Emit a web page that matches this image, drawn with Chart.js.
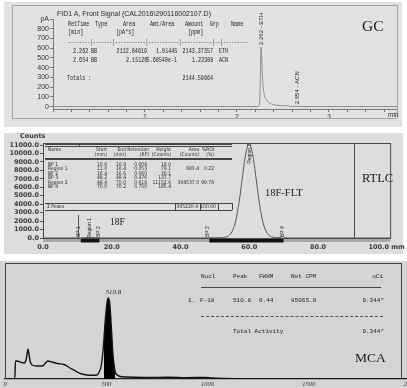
<!DOCTYPE html>
<html>
<head>
<meta charset="utf-8">
<title>GC / RTLC / MCA</title>
<script src="https://cdn.jsdelivr.net/npm/chart.js@4.4.1/dist/chart.umd.min.js"></script>
<style>
  html, body { margin: 0; overflow: hidden; }
  body { position: relative; width: 407px; height: 388px; background: #fff; }
  .panel, canvas, .t, .ln { position: absolute; }
  canvas { left: 0; }
  .t { white-space: pre; line-height: 1; color: #2b2b2b; }
  .sans { font-family: "Liberation Sans", Arial, sans-serif; }
  .mono { font-family: "Liberation Mono", "DejaVu Sans Mono", monospace; color: #222; }
  .narrow { font-family: "Liberation Sans Narrow", "DejaVu Sans Condensed", "Liberation Sans", sans-serif; }
  .serif { font-family: "Liberation Serif", "DejaVu Serif", serif; color: #1a1a1a; }
  .dv { font-family: "DejaVu Sans", sans-serif; font-weight: bold; color: #3a3a3a; }
</style>
</head>
<body>
<div class="panel" style="left:4px;top:2px;width:398px;height:125px;background:#e2e2e0"></div>
<div class="panel" style="left:4px;top:133px;width:399px;height:121px;background:#dddddb"></div>
<div class="panel" style="left:0;top:261px;width:407px;height:127px;background:#d4d4d2"></div>
<canvas id="gcChart" width="407" height="127" style="top:0"></canvas>
<canvas id="rtlcChart" width="407" height="122" style="top:133px"></canvas>
<canvas id="mcaChart" width="420" height="126" style="top:262px"></canvas>
<script>
// ---------- GC: FID1 A front signal ----------
const gcTime   = [0, 2.22, 2.24, 2.25, 2.256, 2.262, 2.268, 2.275, 2.285, 2.30, 2.32, 2.35, 2.38, 2.42, 2.47, 2.55, 2.58, 2.62, 2.654, 2.68, 2.75, 3.74];
const gcSignal = [0, 0, 5, 120, 400, 612, 520, 350, 200, 110, 70, 40, 25, 15, 10, 8, 3, 1, 3, 1, 0, 0];
const gcYTicks = [0, 100, 200, 300, 400, 500, 600, 700, 800, 900];
const gcXTicks = [0, 0.2, 0.4, 0.6, 0.8, 1, 1.2, 1.4, 1.6, 1.8, 2, 2.2, 2.4, 2.6, 2.8, 3, 3.2, 3.4, 3.6];

// GC peak report
const gcRetTime = [2.262, 2.654];
const gcType    = ['BB', 'BB'];
const gcArea    = ['2112.84619', '2.15126'];
const gcAmtArea = ['1.01445', '5.68540e-1'];
const gcAmount  = ['2143.37357', '1.22308'];
const gcName    = ['ETH', 'ACN'];
const gcTotal   = '2144.59664';

// ---------- RTLC: radio-TLC scan ----------
const rtlcMm     = [0, 10.4, 10.6, 10.8, 11.0, 12.5, 13.7, 15.0, 16.4, 16.6, 17.0, 30.0, 47.8, 48.2, 48.6, 50.0, 52.0, 53.0, 54.0, 55.0, 56.0, 57.0, 58.0, 59.0, 60.0, 61.0, 62.0, 63.0, 64.0, 65.0, 66.0, 67.0, 68.0, 69.0, 70.0, 70.4, 72.0, 101];
const rtlcCounts = [0, 0, 18, 0, 10, 40, 79, 40, 30, 20, 0, 0, 0, 138, 30, 20, 40, 90, 260, 760, 1900, 4100, 7150, 9980, 11152.6, 9900, 7050, 4000, 1850, 720, 240, 90, 40, 60, 185, 40, 0, 0];
const rtlcYTicks = [0, 1000, 2000, 3000, 4000, 5000, 6000, 7000, 8000, 9000, 10000, 11000];
const rtlcXTicks = [0, 20, 40, 60, 80, 100];

// RTLC region / peak report
const rtlcRowName   = ['BP 1', 'Region 1', 'BP 2', 'BP 3', 'Region 2', 'BP 4'];
const rtlcRowStart  = [10.6, 11.0, 16.4, 48.2, 48.4, 70.0];
const rtlcRowEnd    = [10.8, 16.4, 16.6, 48.4, 70.0, 70.2];
const rtlcRowRf     = [0.008, 0.053, 0.060, 0.476, 0.618, 0.750];
const rtlcRowHeight = [18.0, 79.1, 30.1, 137.7, 11152.6, 185.4];
const rtlcRowArea   = [null, 683.4, null, null, 304537.0, null];
const rtlcRowRoi    = [null, 0.22, null, null, 99.78, null];
const rtlcTotalArea = 305220.4;
const rtlcTotalRoi  = 100.00;
const rtlcScanEnd   = 90.5; // end of scanned strip, mm

// ---------- MCA: gamma spectrum ----------
const mcaEnergy = [0, 48, 52, 60, 75, 95, 105, 110, 114, 118, 124, 133, 160, 185, 200, 212, 230, 260, 290, 306, 321, 340, 356, 380, 405, 430, 454, 465, 475, 485, 489, 495, 505, 511, 518, 525, 533, 543, 555, 568, 600, 700, 800, 900, 990, 1020, 1100, 1200, 2000];
const mcaCounts = [0, 0, 1800, 1800, 1700, 1600, 2000, 2600, 3000, 2500, 1800, 1400, 1300, 1300, 1600, 1800, 1700, 1550, 1450, 1300, 1100, 900, 700, 500, 400, 380, 400, 700, 1300, 3000, 4100, 5800, 7800, 8100, 7400, 5200, 2500, 800, 400, 250, 200, 150, 180, 130, 160, 100, 50, 0, 0];
const mcaXTicks = [0, 500, 1000, 1500, 2000];
const mcaRoi    = [489, 543];

// MCA nuclide report
const mcaNucl   = 'F-18';
const mcaPeak   = 510.8;
const mcaFwhm   = 6.44;
const mcaNetCpm = '85065.0';
const mcaUci    = '9.344*';
const mcaTotal  = '9.344*';

// ---------- helpers ----------
// text placed by its vertical centre; sx squeezes it horizontally
function put(str, x, y, size, cls, align, sx) {
  const d = document.createElement('div');
  d.className = 't ' + (cls || '');
  d.textContent = str;
  d.style.fontSize = size + 'px';
  d.style.top = (y - size / 2) + 'px';
  if (align === 'right') d.style.right = (407 - x) + 'px';
  else d.style.left = x + 'px';
  if (sx) {
    d.style.transform = 'scaleX(' + sx + ')';
    d.style.transformOrigin = (align === 'right' ? 'right' : 'left') + ' center';
  }
  document.body.appendChild(d);
  return d;
}
function line(x1, y1, x2, y2, color, style) {
  const d = document.createElement('div');
  d.className = 'ln';
  d.style.left = x1 + 'px';
  d.style.top = y1 + 'px';
  if (y1 === y2) { d.style.width = (x2 - x1) + 'px'; d.style.borderTop = '1px ' + (style || 'solid') + ' ' + color; }
  else { d.style.height = (y2 - y1) + 'px'; d.style.borderLeft = '1px ' + (style || 'solid') + ' ' + color; }
  document.body.appendChild(d);
}
function vtext(ctx, str, px, bottom) {
  ctx.save();
  ctx.translate(px, bottom);
  ctx.rotate(-Math.PI / 2);
  ctx.textAlign = 'left';
  ctx.textBaseline = 'middle';
  ctx.fillText(str, 0, 0);
  ctx.restore();
}
const fmt1 = v => v.toFixed(1);

Chart.defaults.animation = false;
Chart.defaults.plugins.legend.display = false;
Chart.defaults.plugins.tooltip.enabled = false;

// ---------- GC chart ----------
const gcPeakLabels = {
  id: 'gcPeakLabels',
  afterDatasetsDraw(chart) {
    const { ctx, scales: { x, y } } = chart;
    ctx.save();
    ctx.font = '6px "Liberation Sans"';
    ctx.fillStyle = '#222';
    gcRetTime.forEach((t, i) => {
      let top = 0;
      gcTime.forEach((tt, j) => { if (Math.abs(tt - t) < 0.03) top = Math.max(top, gcSignal[j]); });
      vtext(ctx, t.toFixed(3) + ' - ' + gcName[i], x.getPixelForValue(t) + 0.5, y.getPixelForValue(top) - 2);
    });
    ctx.restore();
  }
};

new Chart(document.getElementById('gcChart'), {
  type: 'line',
  data: {
    datasets: [{
      data: gcTime.map((t, i) => ({ x: t, y: gcSignal[i] })),
      borderColor: '#8c8c8c',
      borderWidth: 1,
      pointRadius: 0,
      cubicInterpolationMode: 'monotone'
    }]
  },
  options: {
    responsive: false,
    devicePixelRatio: 1,
    layout: { padding: { top: 19, right: 10, left: 0, bottom: 0 } },
    scales: {
      x: {
        type: 'linear', min: 0, max: 3.74,
        afterFit: s => { s.height = 18; },
        afterBuildTicks: s => { s.ticks = gcXTicks.map(v => ({ value: v })); },
        ticks: {
          autoSkip: false, maxRotation: 0, padding: 1, color: '#333',
          font: { family: 'Liberation Sans', size: 7 },
          callback: v => (Number.isInteger(v) && v > 0) ? String(v) : ''
        },
        grid: { drawOnChartArea: false, tickLength: 3, color: '#7a7a7a' },
        border: { color: '#7a7a7a' }
      },
      y: {
        min: -25, max: 900,
        afterFit: s => { s.width = 53; },
        afterBuildTicks: s => { s.ticks = gcYTicks.map(v => ({ value: v })); },
        ticks: {
          autoSkip: false, padding: 1, color: '#333',
          font: { family: 'Liberation Sans', size: 7 },
          callback: v => v === 900 ? 'pA' : String(v)
        },
        grid: { drawOnChartArea: false, tickLength: 3, color: '#7a7a7a' },
        border: { color: '#7a7a7a' }
      }
    }
  },
  plugins: [gcPeakLabels]
});

// ---------- RTLC chart ----------
const rtlcRegions = rtlcRowName.map((n, i) => i).filter(i => rtlcRowName[i].startsWith('Region'));
const rtlcBps     = rtlcRowName.map((n, i) => i).filter(i => rtlcRowName[i].startsWith('BP'));

const rtlcDecor = {
  id: 'rtlcDecor',
  beforeDatasetsDraw(chart) {
    const { ctx, chartArea: a, scales: { x } } = chart;
    ctx.save();
    // strip under the axis, black over each region of interest
    ctx.fillStyle = '#a8a8a6';
    ctx.fillRect(a.left, a.bottom + 1, a.right - a.left, 3);
    ctx.fillStyle = '#111';
    rtlcRegions.forEach(i => {
      const x1 = x.getPixelForValue(rtlcRowStart[i]), x2 = x.getPixelForValue(rtlcRowEnd[i]);
      ctx.fillRect(x1, a.bottom + 1, x2 - x1, 3.5);
    });
    ctx.restore();
  },
  afterDatasetsDraw(chart) {
    const { ctx, chartArea: a, scales: { x, y } } = chart;
    ctx.save();
    ctx.strokeStyle = '#4a4a4a';
    ctx.lineWidth = 1;
    ctx.strokeRect(a.left + 0.5, a.top + 0.5, a.right - a.left, a.bottom - a.top);
    const xs = Math.round(x.getPixelForValue(rtlcScanEnd)) + 0.5;
    ctx.beginPath(); ctx.moveTo(xs, a.top); ctx.lineTo(xs, a.bottom); ctx.stroke();

    // origin marker at the first baseline point
    const xo = Math.round(x.getPixelForValue(rtlcRowStart[rtlcBps[0]])) - 0.5;
    ctx.strokeStyle = '#555';
    ctx.beginPath(); ctx.moveTo(xo, a.bottom - 23); ctx.lineTo(xo, a.bottom); ctx.stroke();
    ctx.beginPath(); ctx.moveTo(xo + 1, a.top); ctx.lineTo(xo + 1, a.top + 3); ctx.stroke();

    ctx.font = '5px "Liberation Sans Narrow", "Liberation Sans"';
    ctx.fillStyle = '#222';
    rtlcBps.forEach(i => vtext(ctx, rtlcRowName[i], x.getPixelForValue(rtlcRowStart[i]) - 1, a.bottom - 1));
    rtlcRegions.forEach(i => {
      let best = 0, at = rtlcRowStart[i];
      rtlcMm.forEach((m, j) => {
        if (m >= rtlcRowStart[i] && m <= rtlcRowEnd[i] && rtlcCounts[j] > best) { best = rtlcCounts[j]; at = m; }
      });
      const w = ctx.measureText(rtlcRowName[i]).width;
      const top = Math.min(y.getPixelForValue(best), a.bottom - 20);
      vtext(ctx, rtlcRowName[i], x.getPixelForValue(at), top + w);
    });
    ctx.restore();
  }
};

new Chart(document.getElementById('rtlcChart'), {
  type: 'line',
  data: {
    datasets: [{
      data: rtlcMm.map((m, i) => ({ x: m, y: rtlcCounts[i] })),
      borderColor: '#555',
      borderWidth: 1,
      pointRadius: 0,
      cubicInterpolationMode: 'monotone'
    }]
  },
  options: {
    responsive: false,
    devicePixelRatio: 1,
    layout: { padding: { top: 10, right: 13, left: 0, bottom: 0 } },
    scales: {
      x: {
        type: 'linear', min: 0, max: 101,
        afterFit: s => { s.height = 17; },
        afterBuildTicks: s => { s.ticks = rtlcXTicks.map(v => ({ value: v })); },
        ticks: {
          autoSkip: false, maxRotation: 0, padding: 2, color: '#3a3a3a',
          font: { family: 'DejaVu Sans', size: 6.5, weight: 'bold' },
          callback: v => v === 100 ? fmt1(v) + ' mm' : fmt1(v)
        },
        grid: { drawOnChartArea: false, tickLength: 3, color: '#555' },
        border: { color: '#4a4a4a' }
      },
      y: {
        min: 0, max: 11250,
        afterFit: s => { s.width = 43; },
        afterBuildTicks: s => { s.ticks = rtlcYTicks.map(v => ({ value: v })); },
        ticks: {
          autoSkip: false, padding: 1, color: '#3a3a3a',
          font: { family: 'DejaVu Sans', size: 6.5, weight: 'bold' },
          callback: v => fmt1(v)
        },
        grid: { drawOnChartArea: false, tickLength: 3, color: '#555' },
        border: { color: '#4a4a4a' }
      }
    }
  },
  plugins: [rtlcDecor]
});

// ---------- MCA chart ----------
const mcaPeakLabel = {
  id: 'mcaPeakLabel',
  afterDatasetsDraw(chart) {
    const { ctx, scales: { x, y } } = chart;
    const i = mcaEnergy.reduce((b, e, j) => (Math.abs(e - mcaPeak) < Math.abs(mcaEnergy[b] - mcaPeak) ? j : b), 0);
    ctx.save();
    ctx.font = 'italic 7px "Liberation Serif"';
    ctx.fillStyle = '#222';
    ctx.textAlign = 'left';
    ctx.textBaseline = 'bottom';
    ctx.fillText(mcaPeak.toFixed(1), x.getPixelForValue(mcaPeak) - 3, y.getPixelForValue(mcaCounts[i]) - 2);
    ctx.restore();
  }
};

const mcaPoints = mcaEnergy.map((e, i) => ({ x: e, y: mcaCounts[i] }));
new Chart(document.getElementById('mcaChart'), {
  type: 'line',
  data: {
    datasets: [{
      data: mcaPoints,
      borderColor: '#111',
      borderWidth: 1.4,
      pointRadius: 0,
      cubicInterpolationMode: 'monotone'
    }, {
      data: mcaPoints.filter(p => p.x >= mcaRoi[0] && p.x <= mcaRoi[1]),
      borderWidth: 0,
      backgroundColor: '#000',
      fill: 'origin',
      pointRadius: 0,
      cubicInterpolationMode: 'monotone'
    }]
  },
  options: {
    responsive: false,
    devicePixelRatio: 1,
    layout: { padding: { top: 1, right: 10, left: 5, bottom: 0 } },
    scales: {
      x: {
        type: 'linear', min: 0, max: 2000,
        afterFit: s => { s.height = 9; },
        afterBuildTicks: s => { s.ticks = mcaXTicks.map(v => ({ value: v })); },
        ticks: {
          autoSkip: false, maxRotation: 0, padding: 1, color: '#333',
          font: { family: 'Liberation Serif', size: 6.5, style: 'italic' },
          callback: v => String(v)
        },
        grid: { drawOnChartArea: false, drawTicks: false, tickLength: 0 },
        border: { color: '#222', width: 1.2 }
      },
      y: { display: false, min: 0, max: 11600 }
    }
  },
  plugins: [mcaPeakLabel]
});

// ---------- GC text ----------
line(12, 5, 397, 5, '#a6a6a6');
line(12, 5, 12, 118, '#a6a6a6');
line(397, 5, 397, 118, '#a6a6a6');
line(12, 118, 397, 118, '#a6a6a6');
put('FID1 A, Front Signal (CAL2016\\290116002107.D)', 57, 13, 7, 'sans');
put('GC', 362, 26, 15.5, 'serif');
put('min', 388, 115.5, 6.5, 'sans');

// report block: a squeezed typewriter face
const gm = 6.5, gx = 0.78;
put('RetTime', 68, 25, gm, 'mono', null, gx);
put('Type', 95, 25, gm, 'mono', null, gx);
put('Area', 123, 25, gm, 'mono', null, gx);
put('Amt/Area', 150, 25, gm, 'mono', null, gx);
put('Amount', 185, 25, gm, 'mono', null, gx);
put('Grp', 210, 25, gm, 'mono', null, gx);
put('Name', 231, 25, gm, 'mono', null, gx);
put('[min]', 68, 33, gm, 'mono', null, gx);
put('[pA*s]', 116, 33, gm, 'mono', null, gx);
put('[ppm]', 188, 33, gm, 'mono', null, gx);
put('--------|-------|-----------|-----------|-----------|--|---------', 68, 43, gm, 'mono', null, 0.71);
gcRetTime.forEach((t, i) => {
  const yy = 52 + i * 9;
  put(t.toFixed(3), 73, yy, gm, 'mono', null, gx);
  put(gcType[i], 91, yy, gm, 'mono', null, gx);
  put(gcArea[i], 147, yy, gm, 'mono', 'right', gx);
  put(gcAmtArea[i], 177, yy, gm, 'mono', 'right', gx);
  put(gcAmount[i], 213, yy, gm, 'mono', 'right', gx);
  put(gcName[i], 219, yy, gm, 'mono', null, gx);
});
put('Totals :', 67, 79, gm, 'mono', null, gx);
put(gcTotal, 213, 79, gm, 'mono', 'right', gx);

// ---------- RTLC text ----------
put('Counts', 20, 136.5, 6.5, 'dv');
put('18F', 110, 223, 9.5, 'serif');
put('18F-FLT', 265, 193, 10.5, 'serif');
put('RTLC', 362, 178, 12.5, 'serif');

line(45, 144, 232, 144, '#444');
line(45, 146, 232, 146, '#444');
line(45, 157.5, 232, 157.5, '#444');
line(45, 159, 232, 159, '#444');
line(45, 203, 232, 203, '#444');
line(45, 209.5, 232, 209.5, '#444');
line(232, 203, 232, 209.5, '#444');
line(175, 203, 175, 209.5, '#444');
line(200, 203, 200, 209.5, '#444');
line(218, 203, 218, 209.5, '#444');

const rs = 5;
const rCol = [107, 126, 149, 171, 199, 214];
put('Name', 48, 149, rs, 'narrow');
['Start', 'End', 'Retention', 'Height', 'Area', '%ROI'].forEach((h, k) => put(h, rCol[k], 149, rs, 'narrow', 'right'));
['(mm)', '(mm)', '(RF)', '(Counts)', '(Counts)', '(%)'].forEach((h, k) => put(h, rCol[k], 154, rs, 'narrow', 'right'));
const rowY = [164, 168.5, 173, 177.5, 182, 186.5];
rtlcRowName.forEach((n, i) => {
  const yy = rowY[i];
  put(n, 48, yy, rs, 'narrow');
  put(fmt1(rtlcRowStart[i]), rCol[0], yy, rs, 'narrow', 'right');
  put(fmt1(rtlcRowEnd[i]), rCol[1], yy, rs, 'narrow', 'right');
  put(rtlcRowRf[i].toFixed(3), rCol[2] - 2, yy, rs, 'narrow', 'right');
  put(fmt1(rtlcRowHeight[i]), rCol[3], yy, rs, 'narrow', 'right');
  if (rtlcRowArea[i] !== null) put(fmt1(rtlcRowArea[i]), rCol[4], yy, rs, 'narrow', 'right');
  if (rtlcRowRoi[i] !== null) put(rtlcRowRoi[i].toFixed(2), rCol[5], yy, rs, 'narrow', 'right');
});
put(rtlcRegions.length + ' Peaks', 47, 206.3, rs, 'narrow');
put(fmt1(rtlcTotalArea), 198, 206.3, rs, 'narrow', 'right');
put(rtlcTotalRoi.toFixed(2), 216, 206.3, rs, 'narrow', 'right');

// ---------- MCA text ----------
line(5, 263, 401, 263, '#444');
line(5, 263, 5, 379, '#444');
line(401, 263, 401, 379, '#444');

const ms = 6;
put('Nucl', 201, 277, ms, 'mono');
put('Peak', 233, 277, ms, 'mono');
put('FWHM', 259, 277, ms, 'mono');
put('Net CPM', 291, 277, ms, 'mono');
put('uCi', 383, 277, ms, 'mono', 'right');
line(201, 287, 381, 287, '#444');
put('1.', 188, 301, ms, 'mono');
put(mcaNucl, 200, 301, ms, 'mono');
put(mcaPeak.toFixed(1), 233, 301, ms, 'mono');
put(mcaFwhm.toFixed(2), 259, 301, ms, 'mono');
put(mcaNetCpm, 291, 301, ms, 'mono');
put(mcaUci, 384, 301, ms, 'mono', 'right');
line(201, 316, 383, 316, '#555', 'dashed');
put('Total Activity', 233, 332, ms, 'mono');
put(mcaTotal, 384, 332, ms, 'mono', 'right');
put('MCA', 355, 358, 13.5, 'serif');
</script>
</body>
</html>
